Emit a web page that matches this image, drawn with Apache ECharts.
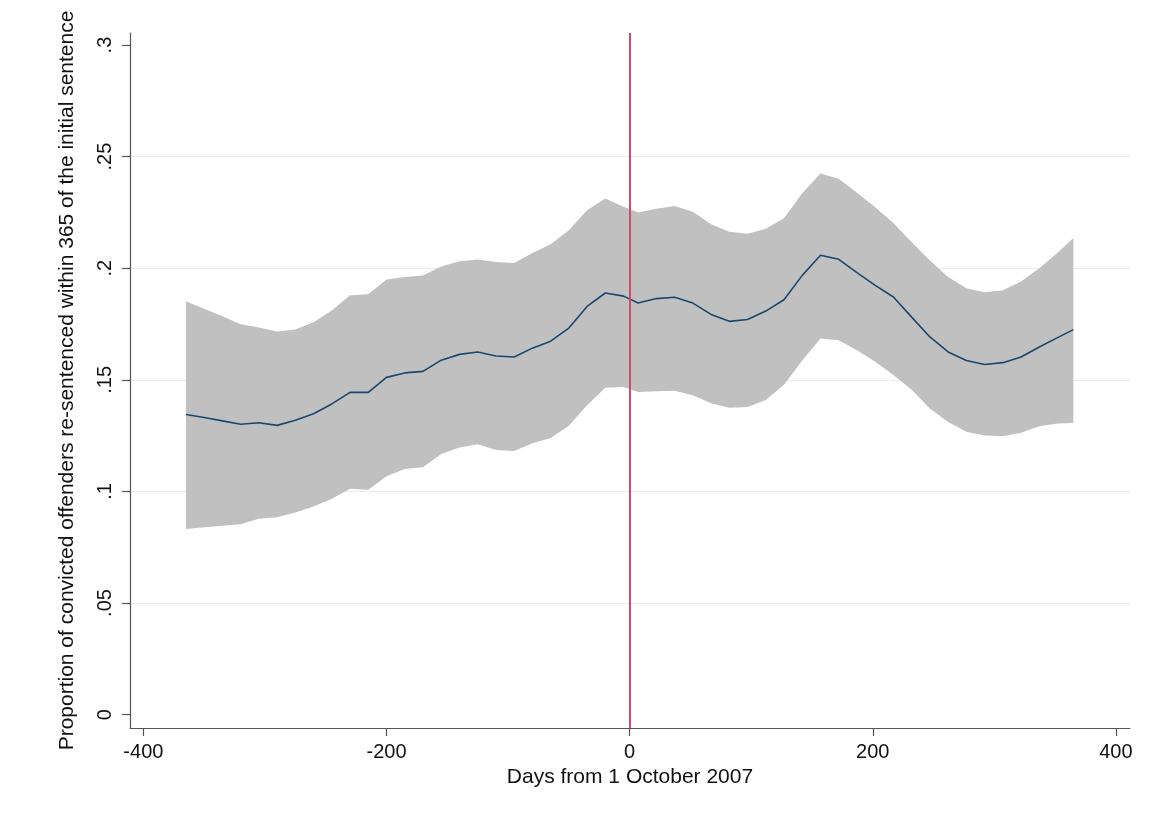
<!DOCTYPE html>
<html>
<head>
<meta charset="utf-8">
<script src="https://cdn.jsdelivr.net/npm/echarts@6/dist/echarts.min.js"></script>
<style>
html,body{margin:0;padding:0;background:#fff;}
#chart{width:1150px;height:814px;}
</style>
</head>
<body>
<div id="chart"></div>
<script>
// Days from cutoff (x positions of the smoothed estimates)
var days = [-365,-350,-335,-320,-305,-290,-275,-260,-245,-230,-215,-200,-185,-170,-155,-140,-125,-110,-95,-80,-65,-50,-35,-20,-5,
            7,22,37,52,67,82,97,112,127,142,157,172,187,202,217,232,247,262,277,292,307,322,337,352,365];
// Fitted proportion
var fitted = [0.1345,0.1331,0.1316,0.1301,0.1308,0.1296,0.1319,0.1348,0.1392,0.1444,0.1444,0.1511,0.1531,0.1538,0.1588,0.1614,0.1625,0.1607,0.1602,0.1642,0.1673,0.1732,0.1829,0.1889,0.1875,
              0.1844,0.1864,0.1870,0.1844,0.1793,0.1762,0.1770,0.1808,0.1859,0.1968,0.2058,0.2040,0.1980,0.1923,0.1871,0.1781,0.1692,0.1625,0.1587,0.1569,0.1577,0.1602,0.1647,0.1689,0.1725];
// Confidence band
var ciUpper = [0.1852,0.1819,0.1785,0.1749,0.1734,0.1717,0.1726,0.1758,0.1811,0.1879,0.1883,0.1950,0.1961,0.1968,0.2008,0.2031,0.2039,0.2028,0.2023,0.2068,0.2107,0.2170,0.2260,0.2312,0.2276,
               0.2250,0.2267,0.2279,0.2253,0.2197,0.2163,0.2155,0.2177,0.2224,0.2336,0.2424,0.2401,0.2338,0.2273,0.2203,0.2116,0.2035,0.1961,0.1910,0.1892,0.1901,0.1941,0.2000,0.2069,0.2136];
var ciLower = [0.0832,0.0839,0.0846,0.0853,0.0878,0.0884,0.0906,0.0933,0.0967,0.1012,0.1008,0.1068,0.1101,0.1108,0.1168,0.1197,0.1211,0.1186,0.1181,0.1216,0.1239,0.1294,0.1386,0.1465,0.1468,
               0.1446,0.1449,0.1451,0.1431,0.1395,0.1375,0.1378,0.1410,0.1478,0.1587,0.1685,0.1677,0.1632,0.1581,0.1522,0.1455,0.1371,0.1311,0.1267,0.1251,0.1247,0.1263,0.1292,0.1304,0.1307];
// Ticks
var xTicks = [-400,-200,0,200,400];
var yTicks = [0,0.05,0.1,0.15,0.2,0.25,0.3];
var cutoffDay = 0;

var bandData = days.map(function(d,i){return [d, ciLower[i], ciUpper[i]];});
var fitData = days.map(function(d,i){return [d, fitted[i]];});

var gridCol = '#e6eef0';
var splitColors = yTicks.map(function(v,i){return (i===0||i===yTicks.length-1)?'rgba(0,0,0,0)':gridCol;});

function renderBand(params, api){
  if (params.dataIndex !== 0) return null;
  var upper = [], lower = [];
  for (var i = 0; i < bandData.length; i++){
    upper.push(api.coord([bandData[i][0], bandData[i][2]]));
    lower.push(api.coord([bandData[i][0], bandData[i][1]]));
  }
  var pts = upper.concat(lower.reverse());
  return {type:'polygon', shape:{points:pts}, style:{fill:'#c0c0c0', stroke:null}};
}

var FONT = 'Liberation Sans, Arial, sans-serif';
var chart = echarts.init(document.getElementById('chart'), null, {renderer:'canvas'});
chart.setOption({
  animation:false,
  backgroundColor:'#ffffff',
  grid:{left:130,right:20,top:33,bottom:86,containLabel:false},
  xAxis:{
    type:'value', min:-411, max:411.6,
    name:'Days from 1 October 2007', nameLocation:'middle', nameGap:36,
    nameTextStyle:{fontSize:21,color:'#111',fontFamily:FONT},
    axisLine:{show:true,onZero:false,lineStyle:{color:'#555',width:1.2}},
    axisTick:{show:true,length:8,customValues:xTicks,lineStyle:{color:'#555',width:1.2}},
    axisLabel:{customValues:xTicks,fontSize:20,color:'#111',fontFamily:FONT,margin:14},
    splitLine:{show:false}
  },
  yAxis:{
    type:'value', min:-0.006, max:0.3054,
    name:'Proportion of convicted offenders re-sentenced within 365 of the initial sentence',
    nameLocation:'middle', nameGap:52,
    nameTextStyle:{fontSize:21,color:'#111',fontFamily:FONT},
    axisLine:{show:true,onZero:false,lineStyle:{color:'#555',width:1.2}},
    axisTick:{show:true,length:8,customValues:yTicks,lineStyle:{color:'#555',width:1.2}},
    axisLabel:{customValues:yTicks,rotate:90,fontSize:20,color:'#111',fontFamily:FONT,margin:15,
      formatter:function(v){ if(Math.abs(v)<1e-9) return '0'; return String(+v.toFixed(3)).replace(/^0/,''); }},
    splitLine:{show:true,lineStyle:{color:splitColors,width:1}}
  },
  series:[
    {type:'custom',name:'band',data:bandData,renderItem:renderBand,encode:{x:0,y:[1,2]},silent:true,z:2},
    {type:'line',name:'fitted',data:fitData,symbol:'none',lineStyle:{color:'#1a476f',width:1.6},silent:true,z:3,
     markLine:{silent:true,symbol:['none','none'],label:{show:false},
       lineStyle:{color:'#d9466e',width:2,type:'solid'},
       data:[{xAxis:cutoffDay}]}}
  ]
});
</script>
</body>
</html>
